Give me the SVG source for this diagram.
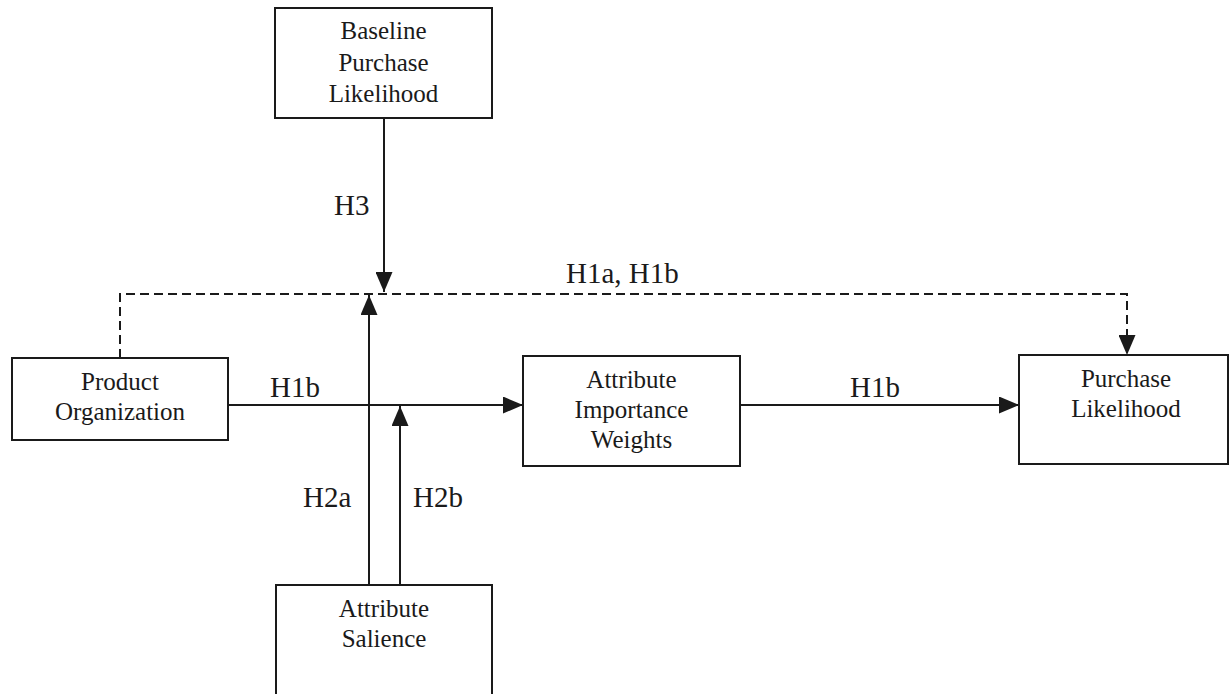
<svg xmlns="http://www.w3.org/2000/svg" width="1230" height="694" viewBox="0 0 1230 694">
  <style>
    .box { fill: #ffffff; stroke: #1a1a1a; stroke-width: 2; }
    .node-text { font-family: 'Liberation Serif', 'DejaVu Serif', 'Times New Roman', serif; font-size: 25px; fill: #1a1a1a; text-anchor: middle; }
    .label { font-family: 'Liberation Serif', 'DejaVu Serif', 'Times New Roman', serif; font-size: 29px; fill: #1a1a1a; }
    .conn { fill: none; stroke: #1a1a1a; stroke-width: 2; }
    .dashed { stroke-dasharray: 9 5; }
  </style>
  <defs>
    <marker id="arrow" viewBox="0 0 20 17" refX="20" refY="8.5" markerWidth="20" markerHeight="17" markerUnits="userSpaceOnUse" orient="auto">
      <path d="M0,0 L20,8.5 L0,17 Z" fill="#1a1a1a"/>
    </marker>
  </defs>
  <rect width="1230" height="694" fill="#ffffff"/>

  <g id="connectors">
    <path class="conn" d="M384,118 L384,292" marker-end="url(#arrow)"/>
    <path class="conn dashed" d="M120,358 L120,294 L1127,294 L1127,355" marker-end="url(#arrow)"/>
    <path class="conn" d="M228,405 L523,405" marker-end="url(#arrow)"/>
    <path class="conn" d="M740,405 L1019,405" marker-end="url(#arrow)"/>
    <path class="conn" d="M369,585 L369,295" marker-end="url(#arrow)"/>
    <path class="conn" d="M400,585 L400,406" marker-end="url(#arrow)"/>
  </g>

  <g id="labels">
    <text class="label" x="334" y="215" font-family="Liberation Serif, DejaVu Serif, serif">H3</text>
    <text class="label" x="566" y="283" font-family="Liberation Serif, DejaVu Serif, serif">H1a, H1b</text>
    <text class="label" x="270" y="397" font-family="Liberation Serif, DejaVu Serif, serif">H1b</text>
    <text class="label" x="850" y="397" font-family="Liberation Serif, DejaVu Serif, serif">H1b</text>
    <text class="label" x="303" y="507" font-family="Liberation Serif, DejaVu Serif, serif">H2a</text>
    <text class="label" x="413" y="507" font-family="Liberation Serif, DejaVu Serif, serif">H2b</text>
  </g>

  <g id="node-baseline">
    <rect class="box" x="275" y="8" width="217" height="110"/>
    <text class="node-text" x="383.5" y="39">Baseline</text>
    <text class="node-text" x="383.5" y="71">Purchase</text>
    <text class="node-text" x="383.5" y="102">Likelihood</text>
  </g>

  <g id="node-product-organization">
    <rect class="box" x="12" y="358" width="216" height="82"/>
    <text class="node-text" x="120" y="390">Product</text>
    <text class="node-text" x="120" y="420">Organization</text>
  </g>

  <g id="node-attribute-importance">
    <rect class="box" x="523" y="356" width="217" height="110"/>
    <text class="node-text" x="631.5" y="388">Attribute</text>
    <text class="node-text" x="631.5" y="418">Importance</text>
    <text class="node-text" x="631.5" y="448">Weights</text>
  </g>

  <g id="node-purchase-likelihood">
    <rect class="box" x="1019" y="355" width="209" height="109"/>
    <text class="node-text" x="1126" y="387">Purchase</text>
    <text class="node-text" x="1126" y="417">Likelihood</text>
  </g>

  <g id="node-attribute-salience">
    <rect class="box" x="276" y="585" width="216" height="120"/>
    <text class="node-text" x="384" y="617">Attribute</text>
    <text class="node-text" x="384" y="647">Salience</text>
  </g>
</svg>
